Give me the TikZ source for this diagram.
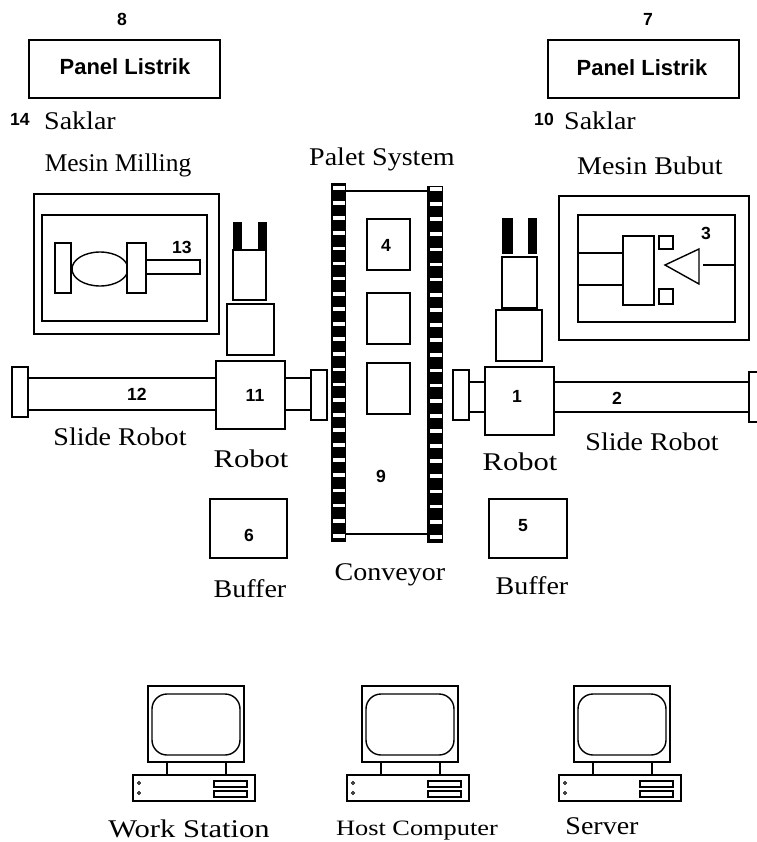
\documentclass[tikz,border=0pt]{standalone}
\usepackage{fontspec}
\setmainfont{Liberation Serif}
\newfontfamily\numfont{Liberation Sans}
\newfontfamily\capfont[FakeStretch=1.1]{Liberation Serif}
\newfontfamily\capwidefont[FakeStretch=1.2]{Liberation Serif}
\begin{document}
\begin{tikzpicture}[
      x=0.02cm,y=-0.02cm,
      part/.style={draw=black,line width=0.8pt,fill=white},
      wire/.style={line width=0.8pt},
      caption/.style={font=\capfont\fontsize{14.5}{16}\selectfont,inner sep=0pt},
      captionwide/.style={font=\capwidefont\fontsize{14.5}{16}\selectfont,inner sep=0pt},
      captionplain/.style={font=\fontsize{14.5}{16}\selectfont,inner sep=0pt},
      num/.style={font=\numfont\bfseries\fontsize{10}{11}\selectfont,inner sep=0pt},
      paneltext/.style={font=\numfont\bfseries\fontsize{12.5}{14}\selectfont,inner sep=0pt}
    ]
    \useasboundingbox (0,0) rectangle (757,842);
    % panels
    \draw[part] (29,40) rectangle (220,98);
    \draw[part] (548,40) rectangle (739,98);
    \node[paneltext] (panelL) at (125,67) {Panel Listrik};
    \node[paneltext] (panelR) at (642,68) {Panel Listrik};
    \node[num] (n8) at (122,19) {8};
    \node[num] (n7) at (648,19) {7};
    \node[num] (n14) at (20,119) {14};
    \node[num] (n10) at (544,119) {10};
    \node[caption] (saklarL) at (80,121) {Saklar};
    \node[caption] (saklarR) at (600,121) {Saklar};
    \node[captionplain] (milling) at (118,165) {Mesin Milling};
    \node[caption] (palet) at (382,159) {Palet System};
    \node[caption] (bubut) at (650,166) {Mesin Bubut};
    % milling machine
    \draw[part] (34,194) rectangle (219,334);
    \draw[part] (42,215) rectangle (207,321);
    \draw[part] (100,269) ellipse (28 and 17);
    \draw[part] (55,243) rectangle (71,293);
    \draw[part] (146,260) rectangle (200,274);
    \draw[part] (127,243) rectangle (146,293);
    \node[num] (n13) at (182,247) {13};
    % left robot
    \draw[part] (233,250) rectangle (266,300);
    \fill (233,222) rectangle (242,250);
    \fill (258,222) rectangle (267,250);
    \draw[part] (227,304) rectangle (274,355);
    \draw[part] (28,378) rectangle (216,410);
    \draw[part] (285,378) rectangle (311,410);
    \draw[part] (12,367) rectangle (28,417);
    \draw[part] (311,370) rectangle (327,420);
    \draw[part] (216,361) rectangle (285,429);
    \node[num] (n12) at (137,394) {12};
    \node[num] (n11) at (255,395) {11};
    \node[caption] (slideL) at (120,437) {Slide Robot};
    \node[captionwide] (robotL) at (251,459) {Robot};
    \draw[part] (210,499) rectangle (287,558);
    \node[num] (n6) at (249,535) {6};
    \node[caption] (bufferL) at (250,589) {Buffer};
    % conveyor
    \draw[wire] (346,191) -- (427,191);
    \draw[wire] (346,534) -- (427,534);
    \fill (331,183) rectangle (346,542);
    \fill (427,186) rectangle (443,543);
    \foreach \k in {0,...,23}{
      \fill[white] (333,{186+15.13*\k}) rectangle (345,{189.7+15.13*\k});
      \fill[white] (430,{187+15.13*\k}) rectangle (442,{190.7+15.13*\k});
    }
    \foreach \ytop in {219,293,363}{
      \draw[part] (367,\ytop) rectangle (410,\ytop+51);
    }
    \node[num] (n4) at (386,245) {4};
    \node[num] (n9) at (381,476) {9};
    \node[caption] (conveyor) at (390,575) {Conveyor};
    % lathe
    \draw[part] (559,196) rectangle (749,340);
    \draw[part] (578,215) rectangle (735,322);
    \draw[wire] (578,253) -- (623,253);
    \draw[wire] (578,285) -- (623,285);
    \draw[part] (623,236) rectangle (654,305);
    \draw[part] (659,236) rectangle (673,249);
    \draw[part] (659,289) rectangle (673,304);
    \draw[part] (665,265) -- (699,249) -- (699,284) -- cycle;
    \draw[wire] (703,265) -- (735,265);
    \node[num] (n3) at (706,233) {3};
    % right robot
    \fill (502,218) rectangle (513,254);
    \fill (528,218) rectangle (537,254);
    \draw[part] (502,257) rectangle (537,308);
    \draw[part] (496,310) rectangle (542,361);
    \draw[part] (469,382) rectangle (485,412);
    \draw[part] (554,382) rectangle (749,412);
    \draw[part] (453,370) rectangle (469,420);
    \draw[part] (749,372) rectangle (770,422);
    \draw[part] (485,367) rectangle (554,435);
    \node[num] (n1) at (517,396) {1};
    \node[num] (n2) at (617,398) {2};
    \node[caption] (slideR) at (652,442) {Slide Robot};
    \node[captionwide] (robotR) at (520,462) {Robot};
    \draw[part] (489,499) rectangle (567,558);
    \node[num] (n5) at (523,526) {5};
    \node[caption] (bufferR) at (532,586) {Buffer};
    % computers
    \foreach \dx in {0,214,426}{
      \begin{scope}[xshift=\dx*0.02cm]
        \draw[part] (148,686) rectangle (244,762);
        \draw[part,rounded corners=0.3cm] (152,694) rectangle (240,755);
        \draw[wire] (167,762) -- (167,775);
        \draw[wire] (226,762) -- (226,775);
        \draw[part] (133,775) rectangle (255,801);
        \draw[part] (214,781) rectangle (247,787);
        \draw[part] (214,791) rectangle (247,797);
        \draw[line width=0.5pt] (139,783) circle (1.5);
        \draw[line width=0.5pt] (139,793) circle (1.5);
      \end{scope}
    }
    \node[captionwide] (work) at (189,829) {Work Station};
    \node[captionwide,font=\capwidefont\fontsize{12.5}{14}\selectfont] (host) at (417,831) {Host Computer};
    \node[caption] (server) at (602,826) {Server};
  \end{tikzpicture}
\end{document}
